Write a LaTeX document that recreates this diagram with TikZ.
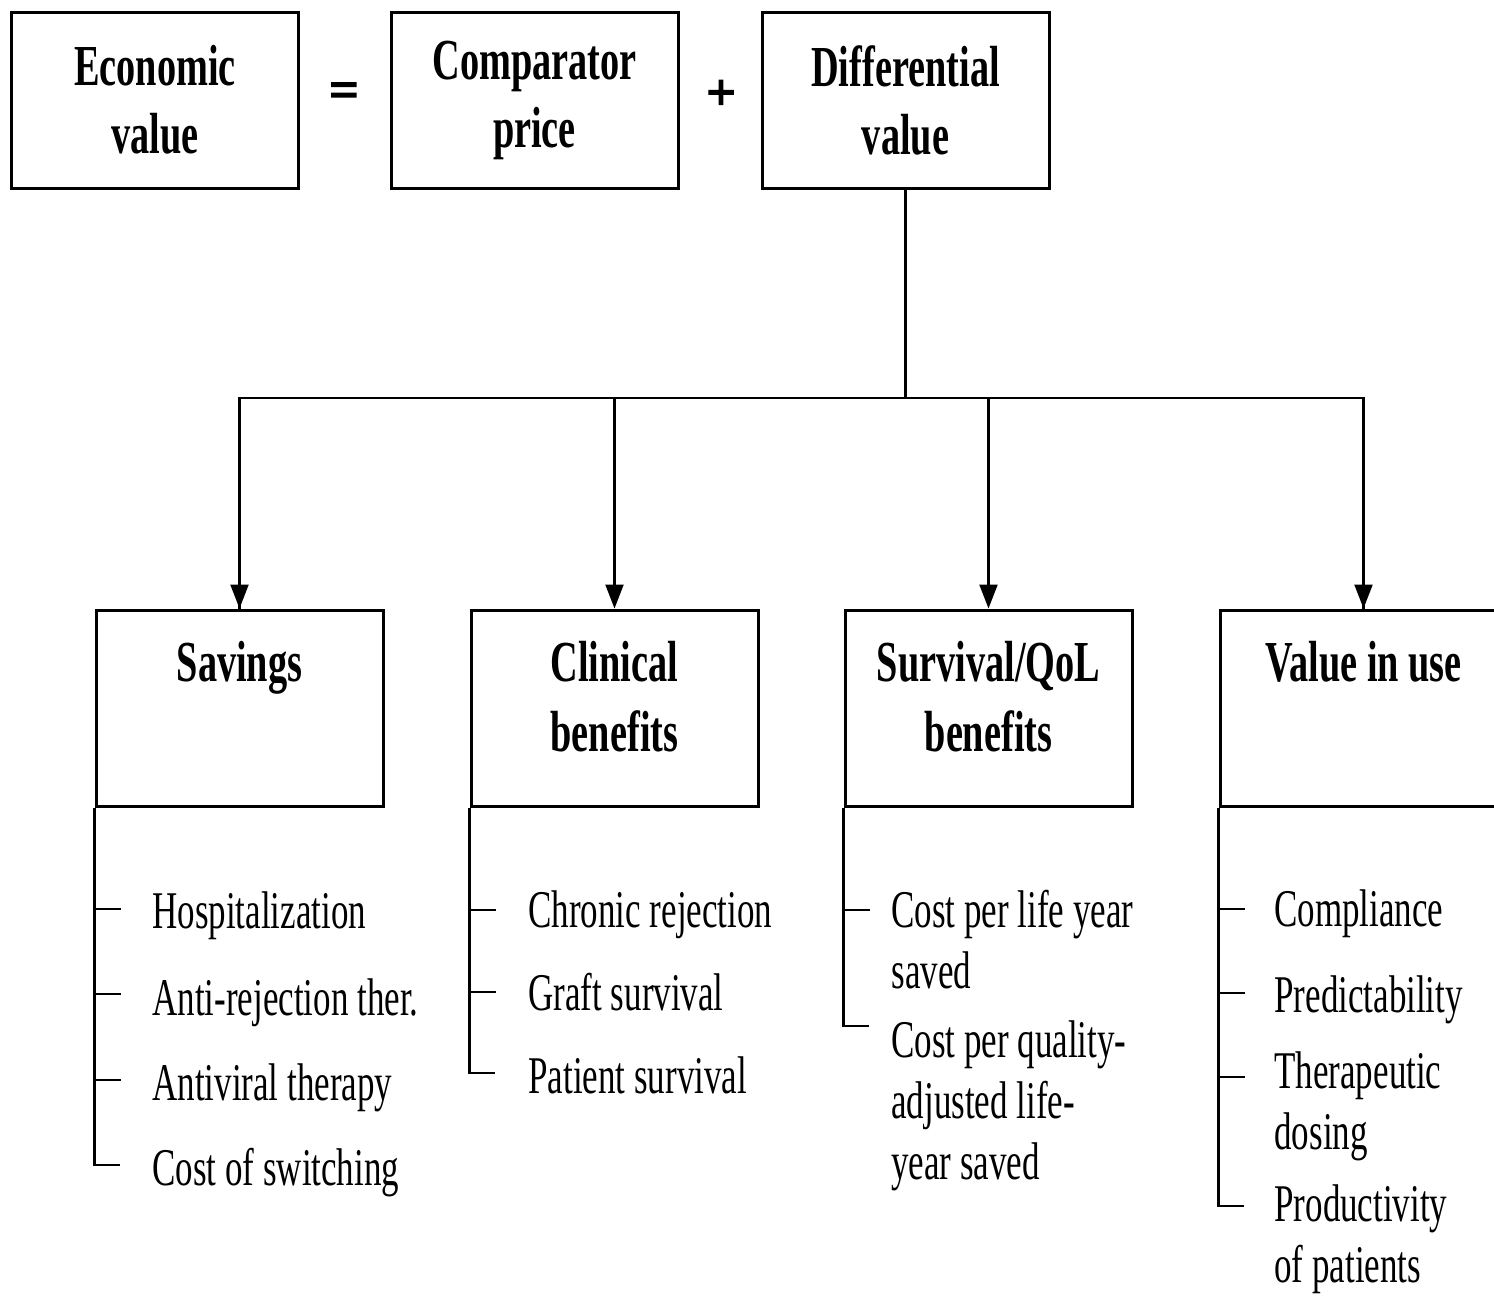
\documentclass[tikz,border=0pt]{standalone}
\usepackage{fontspec}
\setmainfont[FakeStretch=0.66]{Liberation Serif}
\newfontfamily\opfont[FakeBold=2.5]{Liberation Serif Bold}
\usetikzlibrary{arrows.meta,positioning}

\begin{document}
\begin{tikzpicture}[x=0.5pt,y=-0.5pt]
	\tikzstyle{topbox}=[draw, line width=1.5pt, minimum width=143.5pt, minimum height=88pt, inner sep=0pt, align=center, font=\fontsize{29}{34}\selectfont\bfseries]
	\tikzstyle{catbox}=[draw, line width=1.5pt, minimum width=143.5pt, minimum height=98pt, inner sep=0pt]
	\tikzstyle{headtxt}=[inner sep=0pt, align=center, font=\fontsize{29}{35}\selectfont\bfseries]
	\tikzstyle{optxt}=[inner sep=0pt, font=\fontsize{26}{30}\selectfont\opfont]
	\tikzstyle{itemtxt}=[inner sep=0pt, anchor=base west, align=left, font=\fontsize{26.5}{30.5}\selectfont]
	\tikzstyle{link}=[line width=1.1pt, -{Triangle[width=9pt,length=12pt]}]
	\tikzstyle{spine}=[line width=1.2pt]
	\useasboundingbox (0,0) rectangle (1494,1297);
	\clip (0,0) rectangle (1494,1297);

	\node [topbox] (econ) at (155,100) {Economic\\value};
	\node [optxt] (eq) at (344,95) {=};
	\node [topbox] (comp) at (534.5,100) {Comparator\\price};
	\node [optxt] (plus) at (721,95) {+};
	\node [topbox] (diff) at (905.5,100) {Differential\\value};

	\node [catbox] (sav) at (239.5,708) {};
	\node [catbox] (clin) at (614.5,708) {};
	\node [catbox] (surv) at (988.5,708) {};
	\node [catbox] (use) at (1363.5,708) {};
	\node [headtxt, below=16pt of sav.north] (savt) {Savings};
	\node [headtxt, below=16pt of clin.north] (clint) {Clinical\\benefits};
	\node [headtxt, below=16pt of surv.north] (survt) {Survival/QoL\\benefits};
	\node [headtxt, below=16pt of use.north] (uset) {Value in use};

	\coordinate (hub) at (905.5,398);
	\draw [line width=1.1pt] (diff.south) -- (hub);
	\draw [line width=1.4pt] (hub) -| (sav.north);
	\draw [line width=1.4pt] (hub) -| (use.north);
	\draw [link] (sav.north |- hub) -- (sav.north);
	\draw [link] (clin.north |- hub) -- (clin.north);
	\draw [link] (surv.north |- hub) -- (surv.north);
	\draw [link] (use.north |- hub) -- (use.north);

	\node [itemtxt] (s1) at (152,928) {Hospitalization};
	\node [itemtxt] (s2) at (152,1015) {Anti-rejection ther.};
	\node [itemtxt] (s3) at (152,1100) {Antiviral therapy};
	\node [itemtxt] (s4) at (152,1185) {Cost of switching};
	\draw [spine] (sav.south west) -- (sav.south west |- 0,1165) -- ++(25,0);
	\foreach \y in {909,994,1080} \draw [spine] (96,\y) -- ++(25,0);

	\node [itemtxt] (c1) at (528,927) {Chronic rejection};
	\node [itemtxt] (c2) at (528,1010) {Graft survival};
	\node [itemtxt] (c3) at (528,1093) {Patient survival};
	\draw [spine] (clin.south west) -- (clin.south west |- 0,1073) -- ++(25,0);
	\foreach \y in {910,992} \draw [spine] (471,\y) -- ++(25,0);

	% multi-line items: base is the last line
	\node [itemtxt] (q1) at (891,988) {Cost per life year\\saved};
	\node [itemtxt] (q2) at (891,1179) {Cost per quality-\\adjusted life-\\year saved};
	\draw [spine] (surv.south west) -- (surv.south west |- 0,1026) -- ++(25,0);
	\draw [spine] (845,910) -- ++(25,0);

	\node [itemtxt] (u1) at (1274,926) {Compliance};
	\node [itemtxt] (u2) at (1274,1012) {Predictability};
	\node [itemtxt] (u3) at (1274,1149) {Therapeutic\\dosing};
	\node [itemtxt] (u4) at (1274,1282) {Productivity\\of patients};
	\draw [spine] (use.south west) -- (use.south west |- 0,1206) -- ++(25,0);
	\foreach \y in {909,993,1077} \draw [spine] (1220,\y) -- ++(25,0);
\end{tikzpicture}
\end{document}
